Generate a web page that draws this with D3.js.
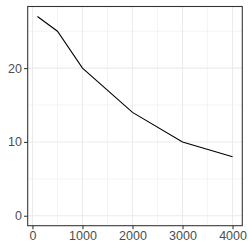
<!DOCTYPE html>
<html>
<head>
<meta charset="utf-8">
<script src="https://d3js.org/d3.v7.min.js"></script>
<style>
  body { margin: 0; background: #fff; }
  svg text { font-family: "Liberation Sans", Arial, sans-serif; }
</style>
</head>
<body>
<div id="chart"></div>
<script>
// data
const xValues = [100, 500, 1000, 2000, 3000, 4000]
const yValues = [27, 25, 20, 14, 10, 8]
const xTicks = [0, 1000, 2000, 3000, 4000]
const xMinor = [500, 1500, 2500, 3500]
const yTicks = [0, 10, 20]
const yMinor = [5, 15, 25]

const W = 249, H = 249
const margin = {top: 6.5, right: 6.7, bottom: 23.3, left: 27.7}
const width = W - margin.left - margin.right,
      height = H - margin.top - margin.bottom

// ggplot-style 5% expansion
const xPad = (d3.max(xValues) - d3.min(xValues)) * 0.05
const yPad = (d3.max(yValues) - 0) * 0.05

const x = d3.scaleLinear()
  .domain([d3.min(xValues) - xPad, d3.max(xValues) + xPad])
  .range([0, width])
const y = d3.scaleLinear()
  .domain([0 - yPad, d3.max(yValues) + yPad])
  .range([height, 0])

const svg = d3.select('#chart').append('svg')
  .attr('width', W)
  .attr('height', H)
const g = svg.append('g')
  .attr('transform', `translate(${margin.left},${margin.top})`)

// grid minor
g.append('g').selectAll('line')
  .data(xMinor).join('line')
  .attr('x1', d => x(d)).attr('x2', d => x(d))
  .attr('y1', 0).attr('y2', height)
  .attr('stroke', '#ebebeb').attr('stroke-width', 0.55)
g.append('g').selectAll('line')
  .data(yMinor).join('line')
  .attr('y1', d => y(d)).attr('y2', d => y(d))
  .attr('x1', 0).attr('x2', width)
  .attr('stroke', '#ebebeb').attr('stroke-width', 0.55)
// grid major
g.append('g').selectAll('line')
  .data(xTicks).join('line')
  .attr('x1', d => x(d)).attr('x2', d => x(d))
  .attr('y1', 0).attr('y2', height)
  .attr('stroke', '#ebebeb').attr('stroke-width', 1.07)
g.append('g').selectAll('line')
  .data(yTicks).join('line')
  .attr('y1', d => y(d)).attr('y2', d => y(d))
  .attr('x1', 0).attr('x2', width)
  .attr('stroke', '#ebebeb').attr('stroke-width', 1.07)

// line
const line = d3.line()
  .x((d, i) => x(xValues[i]))
  .y(d => y(d))
g.append('path')
  .datum(yValues)
  .attr('fill', 'none')
  .attr('stroke', '#000')
  .attr('stroke-width', 1.07)
  .attr('d', line)

// axes
const xAxis = d3.axisBottom(x).tickValues(xTicks).tickFormat(d3.format('d')).tickSize(3.67).tickPadding(2.2)
const yAxis = d3.axisLeft(y).tickValues(yTicks).tickFormat(d3.format('d')).tickSize(3.67).tickPadding(2.2)

const gx = g.append('g')
  .attr('transform', `translate(0,${height})`)
  .call(xAxis)
const gy = g.append('g').call(yAxis)

;[gx, gy].forEach(a => {
  a.select('.domain').remove()
  a.selectAll('.tick line').attr('stroke', '#333333').attr('stroke-width', 1.07)
  a.selectAll('.tick text')
    .attr('fill', '#4d4d4d')
    .style('font-size', '12.5px')
})

// panel border
g.append('rect')
  .attr('x', 0).attr('y', 0)
  .attr('width', width).attr('height', height)
  .attr('fill', 'none')
  .attr('stroke', '#333333')
  .attr('stroke-width', 1.07)
</script>
</body>
</html>
